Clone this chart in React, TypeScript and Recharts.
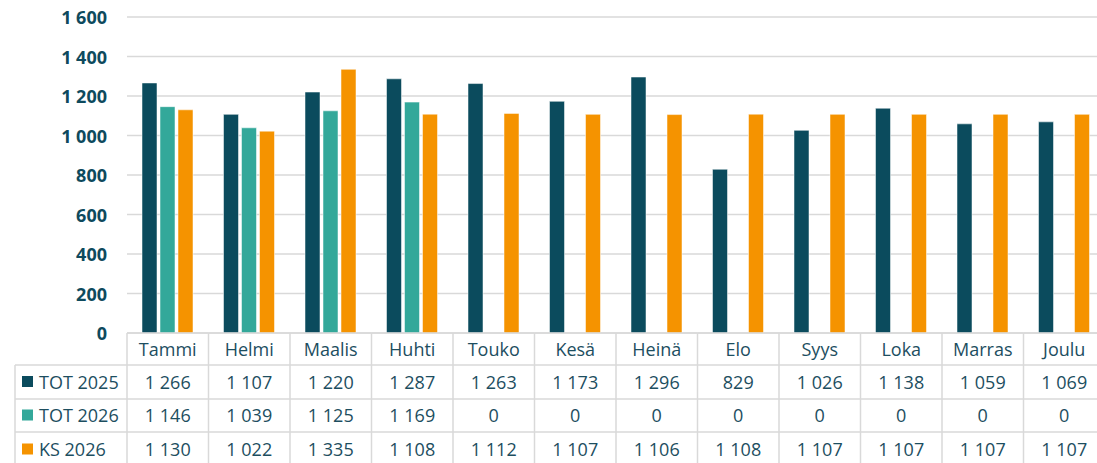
import React from 'react';
import { BarChart, Bar, XAxis, YAxis, CartesianGrid } from 'recharts';

const categories = ['Tammi', 'Helmi', 'Maalis', 'Huhti', 'Touko', 'Kesä', 'Heinä', 'Elo', 'Syys', 'Loka', 'Marras', 'Joulu'];
const tot2025 = [1266, 1107, 1220, 1287, 1263, 1173, 1296, 829, 1026, 1138, 1059, 1069];
const tot2026 = [1146, 1039, 1125, 1169, 0, 0, 0, 0, 0, 0, 0, 0];
const ks2026 = [1130, 1022, 1335, 1108, 1112, 1107, 1106, 1108, 1107, 1107, 1107, 1107];
const yTicks = [0, 200, 400, 600, 800, 1000, 1200, 1400, 1600];
const seriesNames = ['TOT 2025', 'TOT 2026', 'KS 2026'];
const seriesKeys = ['tot2025', 'tot2026', 'ks2026'];
const seriesColors = ['#0b4b5d', '#33a89a', '#f59300'];
const seriesValues = [tot2025, tot2026, ks2026];

const data = categories.map((c, i) => ({
  name: c,
  tot2025: tot2025[i],
  tot2026: tot2026[i],
  ks2026: ks2026[i],
}));

const FONT = '"Open Sans", sans-serif';
const TEXT = '#1d4e5f';
const AXIS_TEXT = '#0e4a5d';
const LINE = '#d9d9d9';

const CHART_W = 1110;
const CHART_H = 470;
const MARGIN = { top: 17, right: 5, bottom: 4, left: 0 };
const Y_W = 127;
const COL_W = (CHART_W - MARGIN.left - MARGIN.right - Y_W) / categories.length;
const ROWS = [0, 32, 66, 99, 133];
const LEGEND_LEFT = 15;

const fmt = (n: number) =>
  n >= 1000 ? `${Math.floor(n / 1000)} ${String(n % 1000).padStart(3, '0')}` : String(n);

const YTick = (props: any) => {
  const { x, y, payload } = props;
  return (
    <text x={x} y={y} textAnchor="end" dominantBaseline="central" fontFamily={FONT} fontWeight={700} fontSize={18} fill={AXIS_TEXT}>
      {fmt(payload.value)}
    </text>
  );
};

const TableTick = (props: any) => {
  const { x, y, payload } = props;
  const idx = categories.indexOf(payload.value);
  const left = x - COL_W / 2;
  const right = x + COL_W / 2;
  const top = y;
  const bottom = top + ROWS[ROWS.length - 1];
  const centers = [top + 15.5, top + 48.5, top + 82, top + 116];
  return (
    <g>
      <line x1={left} x2={left} y1={top} y2={bottom + 10} stroke={LINE} strokeWidth={1.5} />
      {idx === categories.length - 1 && (
        <line x1={right} x2={right} y1={top} y2={bottom + 10} stroke={LINE} strokeWidth={1.5} />
      )}
      {ROWS.map((r, i) => (
        <line key={i} x1={left} x2={right} y1={top + r} y2={top + r} stroke={LINE} strokeWidth={1.5} />
      ))}
      <text x={x} y={centers[0]} textAnchor="middle" dominantBaseline="central" fontFamily={FONT} fontSize={18} fill={TEXT}>
        {payload.value}
      </text>
      {seriesValues.map((vals, s) => (
        <text key={s} x={x} y={centers[s + 1]} textAnchor="middle" dominantBaseline="central" fontFamily={FONT} fontSize={18} fill={TEXT}>
          {fmt(vals[idx])}
        </text>
      ))}
      {idx === 0 && (
        <g>
          <line x1={LEGEND_LEFT} x2={LEGEND_LEFT} y1={top + ROWS[1]} y2={bottom + 10} stroke={LINE} strokeWidth={1.5} />
          {ROWS.slice(1).map((r, i) => (
            <line key={i} x1={LEGEND_LEFT} x2={left} y1={top + r} y2={top + r} stroke={LINE} strokeWidth={1.5} />
          ))}
          {seriesNames.map((nm, s) => (
            <g key={nm}>
              <rect x={22} y={centers[s + 1] - 5.5} width={11} height={11} fill={seriesColors[s]} />
              <text x={39} y={centers[s + 1]} dominantBaseline="central" fontFamily={FONT} fontSize={18} fill={TEXT}>
                {nm}
              </text>
            </g>
          ))}
        </g>
      )}
    </g>
  );
};

export default function App() {
  return (
    <div style={{ position: 'absolute', left: 0, top: 0, width: 1097, height: 463, overflow: 'hidden', background: '#ffffff' }}>
      <BarChart width={CHART_W} height={CHART_H} data={data} margin={MARGIN} barGap={3} barSize={15}>
        <CartesianGrid vertical={false} stroke={LINE} strokeWidth={1.5} />
        <YAxis
          domain={[0, 1600]}
          ticks={yTicks}
          width={Y_W}
          axisLine={false}
          tickLine={false}
          tickSize={0}
          tickMargin={20}
          tick={<YTick />}
          interval={0}
        />
        <XAxis
          dataKey="name"
          height={CHART_H - MARGIN.top - MARGIN.bottom - 316}
          axisLine={false}
          tickLine={false}
          tickSize={0}
          tickMargin={0}
          interval={0}
          tick={<TableTick />}
        />
        {seriesKeys.map((k, s) => (
          <Bar
            key={k}
            dataKey={k}
            name={seriesNames[s]}
            fill={seriesColors[s]}
            stroke="#ffffff"
            strokeOpacity={0.5}
            strokeWidth={1}
            isAnimationActive={false}
          />
        ))}
      </BarChart>
    </div>
  );
}
